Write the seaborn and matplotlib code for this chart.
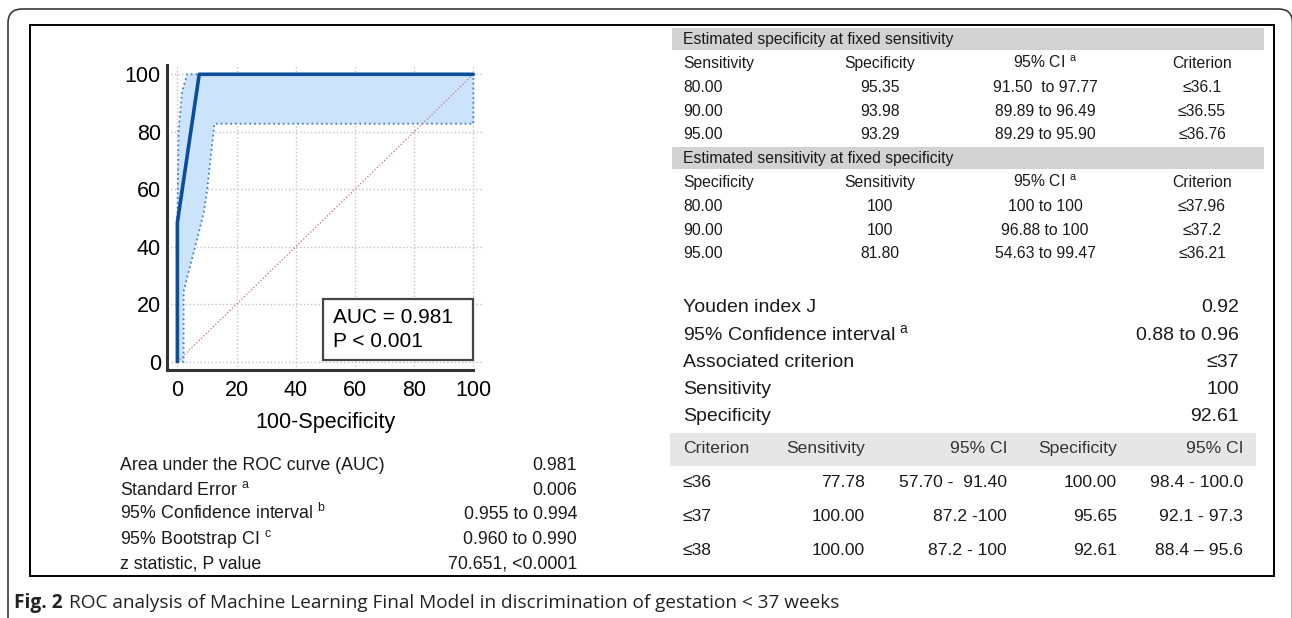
import numpy as np
import pandas as pd
import matplotlib
matplotlib.use("Agg")
import matplotlib.pyplot as plt
import seaborn as sns
from matplotlib.patches import Rectangle, FancyBboxPatch
from matplotlib.transforms import IdentityTransform
from matplotlib.ticker import MultipleLocator

# ---------------- data ----------------
roc_fpr = [0, 0, 7.39, 100]
roc_tpr = [0, 48.4, 100, 100]

ci_upper_fpr = [0, 0, 0.4, 1.6, 3.3, 100]
ci_upper_tpr = [0, 48.4, 80, 94, 100, 100]
ci_lower_fpr = [0, 2.1, 2.1, 7.5, 9.0, 10.0, 12.2, 12.5, 100, 100]
ci_lower_tpr = [0, 0, 24.4, 46, 52.3, 59.3, 79.9, 82.8, 82.8, 100]

axis_ticks = [0, 20, 40, 60, 80, 100]
auc_text = ["AUC = 0.981", "P < 0.001"]

auc_labels = ["Area under the ROC curve (AUC)", r"Standard Error $^{\mathrm{a}}$",
              r"95% Confidence interval $^{\mathrm{b}}$", r"95% Bootstrap CI $^{\mathrm{c}}$",
              "z statistic, P value"]
auc_values = ["0.981", "0.006", "0.955 to 0.994", "0.960 to 0.990", "70.651, <0.0001"]

spec_title = "Estimated specificity at fixed sensitivity"
spec_header = ["Sensitivity", "Specificity", r"95% CI $^{\mathrm{a}}$", "Criterion"]
spec_fixed_sens = ["80.00", "90.00", "95.00"]
spec_estimate = ["95.35", "93.98", "93.29"]
spec_ci = ["91.50  to 97.77", "89.89 to 96.49", "89.29 to 95.90"]
spec_criterion = ["≤36.1", "≤36.55", "≤36.76"]

sens_title = "Estimated sensitivity at fixed specificity"
sens_header = ["Specificity", "Sensitivity", r"95% CI $^{\mathrm{a}}$", "Criterion"]
sens_fixed_spec = ["80.00", "90.00", "95.00"]
sens_estimate = ["100", "100", "81.80"]
sens_ci = ["100 to 100", "96.88 to 100", "54.63 to 99.47"]
sens_criterion = ["≤37.96", "≤37.2", "≤36.21"]

youden_labels = ["Youden index J", r"95% Confidence interval $^{\mathrm{a}}$",
                 "Associated criterion", "Sensitivity", "Specificity"]
youden_values = ["0.92", "0.88 to 0.96", "≤37", "100", "92.61"]

crit_header = ["Criterion", "Sensitivity", "95% CI", "Specificity", "95% CI"]
crit_values = ["≤36", "≤37", "≤38"]
crit_sens = ["77.78", "100.00", "100.00"]
crit_sens_ci = ["57.70 -  91.40", "87.2 -100", "87.2 - 100"]
crit_spec = ["100.00", "95.65", "92.61"]
crit_spec_ci = ["98.4 - 100.0", "92.1 - 97.3", "88.4 \u2013 95.6"]

caption_bold = "Fig. 2"
caption_text = "ROC analysis of Machine Learning Final Model in discrimination of gestation < 37 weeks"

# ---------------- style ----------------
W, H = 1292, 618
sns.set_theme(style="white")
plt.rcParams["font.family"] = ["Liberation Sans", "DejaVu Sans"]
plt.rcParams["mathtext.fontset"] = "custom"
plt.rcParams["mathtext.rm"] = "Liberation Sans"
plt.rcParams["mathtext.it"] = "Liberation Sans:italic"
plt.rcParams["mathtext.default"] = "regular"

fig = plt.figure(figsize=(W / 100, H / 100), dpi=100)
fig.patch.set_facecolor("white")
PX = IdentityTransform()


def txt(x, y, s, fontsize, **kw):
    """Place text so that the middle of its capital height sits at pixel row y."""
    kw.setdefault("color", "#1a1a1a")
    base = y + 0.358 * fontsize * 100 / 72
    return fig.text(x, H - base, s, transform=PX, fontsize=fontsize, va="baseline", **kw)


def box(x0, y0, x1, y1, **kw):
    r = Rectangle((x0, H - y1), x1 - x0, y1 - y0, transform=PX, **kw)
    fig.add_artist(r)
    return r


# outer rounded frame and inner panel
frame = FancyBboxPatch((8, -40), 1284.5, H - 9 + 40, boxstyle="round,pad=0,rounding_size=14",
                       transform=PX, fill=False, edgecolor="#3a3a3a", lw=1.2)
fig.add_artist(frame)
box(30, 25, 1274, 576, fill=False, edgecolor="black", lw=1.4)

# ---------------- ROC plot ----------------
ax = fig.add_axes([167 / W, 1 - 370 / H, (483.7 - 167) / W, (370 - 64.8) / H])
ax.set_facecolor("none")

poly_x = list(ci_upper_fpr) + list(ci_lower_fpr[::-1])
poly_y = list(ci_upper_tpr) + list(ci_lower_tpr[::-1])
ax.fill(poly_x, poly_y, color="#cce4fb", lw=0, zorder=1)

sns.lineplot(x=ci_upper_fpr, y=ci_upper_tpr, sort=False, estimator=None, ax=ax,
             color="#3f7fcc", lw=1.3, linestyle=":", zorder=2)
sns.lineplot(x=ci_lower_fpr, y=ci_lower_tpr, sort=False, estimator=None, ax=ax,
             color="#3f7fcc", lw=1.3, linestyle=":", zorder=2)
sns.lineplot(x=[0, 100], y=[0, 100], sort=False, estimator=None, ax=ax,
             color="#c86a78", lw=0.9, linestyle=":", zorder=3)
sns.lineplot(x=roc_fpr, y=roc_tpr, sort=False, estimator=None, ax=ax,
             color="#0b4f9c", lw=2.6, zorder=4)

ax.set_xlim(-3.5, 103.5)
ax.set_ylim(-2.9, 103.3)
ax.set_xticks(axis_ticks)
ax.set_yticks(axis_ticks)
ax.xaxis.set_minor_locator(MultipleLocator(5))
ax.yaxis.set_minor_locator(MultipleLocator(5))
ax.grid(True, which="major", color="#c2c2c2", ls=":", lw=1.0)
ax.set_axisbelow(True)
for s in ("top", "right"):
    ax.spines[s].set_visible(False)
for s in ("left", "bottom"):
    ax.spines[s].set_color("#333333")
    ax.spines[s].set_linewidth(2.2)
ax.spines["bottom"].set_bounds(-3.5, 100)
ax.tick_params(which="major", direction="in", length=7.5, width=2.2, color="#333333",
               labelsize=15.5, labelcolor="black")
ax.tick_params(which="minor", direction="in", length=3.8, width=1.4, color="#333333")
ax.tick_params(axis="x", which="major", pad=7.5)
ax.tick_params(axis="y", which="major", pad=4.5)
ax.set_xlabel("100-Specificity", fontsize=15.5, color="black", labelpad=7.5)
ax.set_ylabel("")

ax.add_patch(Rectangle((49.1, 0.6), 50.9, 21.2, facecolor="white", edgecolor="#444444",
                       lw=1.6, zorder=6))
ax.text(52.6, 15.2, auc_text[0], fontsize=15, va="center", zorder=7, color="black")
ax.text(52.6, 6.9, auc_text[1], fontsize=15, va="center", zorder=7, color="black")

# ---------------- AUC statistics ----------------
for i, (lab, val) in enumerate(zip(auc_labels, auc_values)):
    y = 463.5 + i * 24.7
    txt(120, y, lab, 12.8)
    txt(577, y, val, 12.8, ha="right")

# ---------------- fixed sensitivity / specificity tables ----------------
col_x = [683, 880, 1045, 1202]
col_ha = ["left", "center", "center", "center"]
fs_small = 11.3


def fixed_table(y_band, title, header, cols):
    box(672, y_band - 10.5, 1264, y_band + 11, facecolor="#d2d2d2", edgecolor="none")
    txt(683, y_band, title, fs_small)
    for j, h in enumerate(header):
        txt(col_x[j], y_band + 23.5, h, fs_small, ha=col_ha[j])
    for i in range(3):
        for j, c in enumerate(cols):
            txt(col_x[j], y_band + 47.8 + i * 23.7, c[i], fs_small, ha=col_ha[j])


fixed_table(38.5, spec_title, spec_header,
            [spec_fixed_sens, spec_estimate, spec_ci, spec_criterion])
fixed_table(157.5, sens_title, sens_header,
            [sens_fixed_spec, sens_estimate, sens_ci, sens_criterion])

# ---------------- Youden index ----------------
for i, (lab, val) in enumerate(zip(youden_labels, youden_values)):
    y = 305.5 + i * 27.2
    txt(683, y, lab, 14)
    txt(1239, y, val, 14, ha="right")

# ---------------- criterion table ----------------
box(670, 433, 1256, 466, facecolor="#e6e6e6", edgecolor="none")
crit_x = [683, 865, 1007, 1117, 1243]
crit_ha = ["left", "right", "right", "right", "right"]
for j, h in enumerate(crit_header):
    txt(crit_x[j], 447, h, 12.6, ha=crit_ha[j], color="#333333")
crit_cols = [crit_values, crit_sens, crit_sens_ci, crit_spec, crit_spec_ci]
for i in range(3):
    for j, c in enumerate(crit_cols):
        txt(crit_x[j], 480.5 + i * 34, c[i], 12.6, ha=crit_ha[j])

# ---------------- caption ----------------
cap_fonts = ["Liberation Sans Narrow", "Open Sans", "DejaVu Sans"]
t_bold = txt(14, 601, caption_bold, 13.8, fontweight="bold", family=cap_fonts,
             color="#222222")
fig.canvas.draw()
bb = t_bold.get_window_extent()
txt(bb.x1 + 6, 601, caption_text, 13.7, family=cap_fonts, color="#222222")

fig.savefig("out.png", dpi=100, facecolor="white")
